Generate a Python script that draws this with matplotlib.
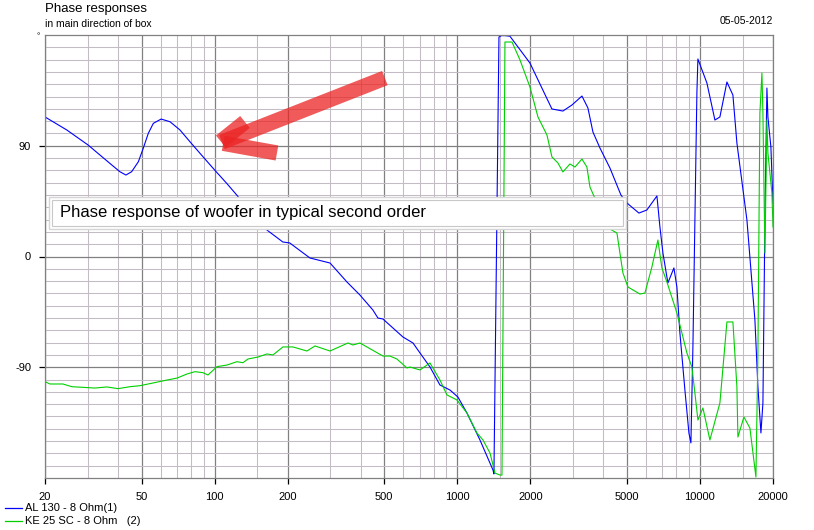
import numpy as np
import matplotlib
matplotlib.use("Agg")
import matplotlib.pyplot as plt
from matplotlib.ticker import FixedLocator, NullFormatter
from matplotlib.patches import Rectangle

plt.rcParams['font.family'] = ['Liberation Sans', 'DejaVu Sans']

# ____ data ____
title = "Phase responses"
subtitle = "in main direction of box"
date_text = "05-05-2012"
note_text = "Phase response of woofer in typical second order"

x_ticks = [20, 50, 100, 200, 500, 1000, 2000, 5000, 10000, 20000]
x_minor = [30, 40, 60, 70, 80, 90, 150, 300, 400, 600, 700, 800, 900,
           1500, 3000, 4000, 6000, 7000, 8000, 9000, 15000]
y_ticks = [-90, 0, 90]

# AL 130 - 8 Ohm (blue)
al_freq = [20, 24.6, 30.1, 37.0, 40.7, 43.1, 45.5, 48.5, 50.8, 53.3, 55.9,
           60.2, 65.5, 72.0, 79.1, 87.0, 100, 112.1, 123.3, 140, 164.3, 191,
           204, 247, 299, 351, 397, 449, 471, 494, 597, 657, 702, 772, 848,
           933, 1006, 1096, 1240, 1403, 1416, 1485, 1520, 1572, 1648, 1993,
           2454, 2724, 2968, 3264, 3454, 3622, 3871, 4257, 4724, 5000, 5604,
           6044, 6648, 6840, 7038, 7378, 7810, 8036, 8268, 8670, 9006, 9178,
           9354, 9716, 9808, 10682, 11526, 12084, 12916, 13672, 14200, 15616,
           16846, 17334, 17836, 18176, 18524, 18878, 19058, 19604, 20000]
al_phase = [113.4, 102.8, 90.6, 75.7, 68.9, 66.2, 68.9, 77.0, 87.9, 100.1,
            108.2, 111.7, 109.5, 102.8, 93.3, 83.9, 70.3, 59.5, 50.0, 36.0,
            21.5, 11.8, 11.0, -1.2, -5.3, -20.7, -31.3, -43.5, -50.0, -50.8,
            -65.4, -70.3, -78.4, -89.8, -104.4, -108.5, -114.2, -127.2,
            -149.1, -173.5, -176.7, 178.4, 179.5, 179.5, 179.0, 157.2, 119.9,
            118.2, 123.1, 130.4, 120.7, 101.2, 88.2, 71.9, 50.0, 43.5, 35.3,
            37.8, 49.2, 24.0, 2.8, -21.5, -9.3, -24.8, -62.2, -108.5, -143.4,
            -151.5, -73.5, 133.7, 160.5, 141.0, 110.9, 113.4, 141.8, 131.2,
            92.2, 29.7, -51.6, -106.0, -143.4, -119.0, 29.7, 136.9, 113.4,
            89.0, 43.5]

# KE 25 SC - 8 Ohm (green)
ke_freq = [20, 20.96, 23.7, 25.8, 32.1, 36.0, 40.0, 44.8, 49.2, 55.7, 63.6,
           70, 76.9, 83, 89.5, 93.9, 102.3, 112.4, 123.6, 130.9, 137.2,
           150.9, 164.3, 174, 191.3, 210.2, 240.2, 259.2, 298.8, 354.4,
           371.7, 397.2, 494, 527.9, 564, 620.2, 638, 701.8, 771.6, 848.4,
           906.6, 997, 1096, 1205, 1276, 1364, 1430, 1499, 1528, 1572, 1681,
           1813, 1993, 2150, 2342, 2455, 2599, 2724, 2912, 3054, 3264, 3421,
           3521, 4176, 4549, 4680, 4816, 5050, 5658, 5932, 6338, 6710, 6970,
           7308, 8036, 8836, 9264, 9532, 9808, 10286, 10990, 12084, 12916,
           13672, 14200, 14336, 15176, 16064, 17008, 17334, 17662, 18004,
           18176, 18524, 18878, 19058, 19794, 20000]
ke_phase = [-101.7, -103.6, -103.6, -105.8, -106.9, -106.0, -107.4, -105.8,
            -105.0, -102.8, -100.4, -98.8, -95.5, -93.6, -94.4, -96.3, -89.5,
            -88.2, -85.5, -86.3, -83.3, -81.7, -79.2, -80.0, -73.5, -73.5,
            -76.8, -72.7, -76.8, -70.3, -71.9, -70.3, -80.9, -80.9, -83.3,
            -90.6, -89.8, -92.2, -86.5, -100.4, -112.5, -116.6, -127.2,
            -143.4, -149.1, -159.7, -176.0, -177.6, -177.6, 174.3, 174.3,
            159.7, 137.7, 113.4, 98.7, 80.9, 76.0, 68.7, 75.2, 72.7, 79.2,
            72.7, 56.5, 23.2, 19.1, 2.8, -13.4, -24.8, -30.5, -29.7, -8.5,
            13.4, -9.3, -20.7, -45.9, -78.4, -89.8, -110.9, -132.9, -123.1,
            -149.1, -119.0, -53.2, -53.2, -106.0, -146.7, -130.4, -139.4,
            -179.2, -78.4, 116.6, 149.1, 116.6, 2.8, 110.9, 84.1, 51.6, 24.0]

legend_labels = ["AL 130 - 8 Ohm(1)", "KE 25 SC - 8 Ohm   (2)"]
colors = ["#0000ff", "#00d000"]

# red brush arrow (freq, phase) strokes
arrow_strokes = [([107.2, 503], [93.0, 145.0]),
                 ([108.5, 180.7], [92.0, 84.1]),
                 ([106.0, 133.4], [93.5, 109.3])]

# ____ figure ____
W, H = 814, 530
fig = plt.figure(figsize=(W / 100, H / 100), dpi=100)
fig.patch.set_facecolor('white')
ax = fig.add_axes([45 / W, (H - 478) / H, 728 / W, 443 / H])

ax.set_xscale('log')
ax.set_xlim(20, 20000)
ax.set_ylim(-180, 180)

ax.xaxis.set_major_locator(FixedLocator(x_ticks))
ax.xaxis.set_minor_locator(FixedLocator(x_minor))
ax.xaxis.set_minor_formatter(NullFormatter())
ax.set_xticklabels([str(v) for v in x_ticks])
ax.yaxis.set_major_locator(FixedLocator(y_ticks))
ax.yaxis.set_minor_locator(FixedLocator([v for v in range(-170, 180, 10) if v % 90]))
ax.set_yticklabels([str(v) for v in y_ticks])

ax.grid(which='minor', color='#c4bcc4', linewidth=0.75)
ax.grid(which='major', color='#808080', linewidth=0.9)
ax.set_axisbelow(True)
ax.tick_params(which='major', direction='out', length=4, width=0.9,
               color='black', labelsize=8, pad=6)
ax.tick_params(which='minor', length=0)
for s in ax.spines.values():
    s.set_color('#808080')
    s.set_linewidth(0.9)

ax.plot(al_freq, al_phase, color=colors[0], linewidth=0.8)
ax.plot(ke_freq, ke_phase, color=colors[1], linewidth=0.8)

for fx, py in arrow_strokes:
    ax.plot(fx, py, color='#eb2323', alpha=0.75, linewidth=11,
            solid_capstyle='butt', zorder=5)

# note box
def fx(px):
    return px / W


def fy(py):
    return 1 - py / H


fig.add_artist(Rectangle((fx(49), fy(229)), (626 - 49) / W, 32 / H,
                         facecolor='white', edgecolor='#d6d6d6', linewidth=1,
                         zorder=6))
fig.add_artist(Rectangle((fx(52), fy(226)), (623 - 52) / W, 26 / H,
                         facecolor='white', edgecolor='#c8c8c8', linewidth=0.8,
                         zorder=6))
fig.text(fx(60), fy(213), note_text, fontsize=12, va='center', ha='left',
         zorder=7)

# titles
fig.text(fx(45), fy(9), title, fontsize=9.5, va='center', ha='left')
fig.text(fx(45), fy(24), subtitle, fontsize=7.5, va='center', ha='left')
fig.text(fx(773), fy(21), date_text, fontsize=7.5, va='center', ha='right')
fig.text(fx(38), fy(37), "\u00b0", fontsize=6, va='center', ha='center')

# legend
for i, (lab, c) in enumerate(zip(legend_labels, colors)):
    yy = fy(508 + 13 * i)
    fig.add_artist(plt.Line2D([fx(5), fx(22)], [yy, yy], color=c, linewidth=0.9))
    fig.text(fx(25), yy, lab, fontsize=8, va='center', ha='left')

fig.savefig("out.png", dpi=100)
